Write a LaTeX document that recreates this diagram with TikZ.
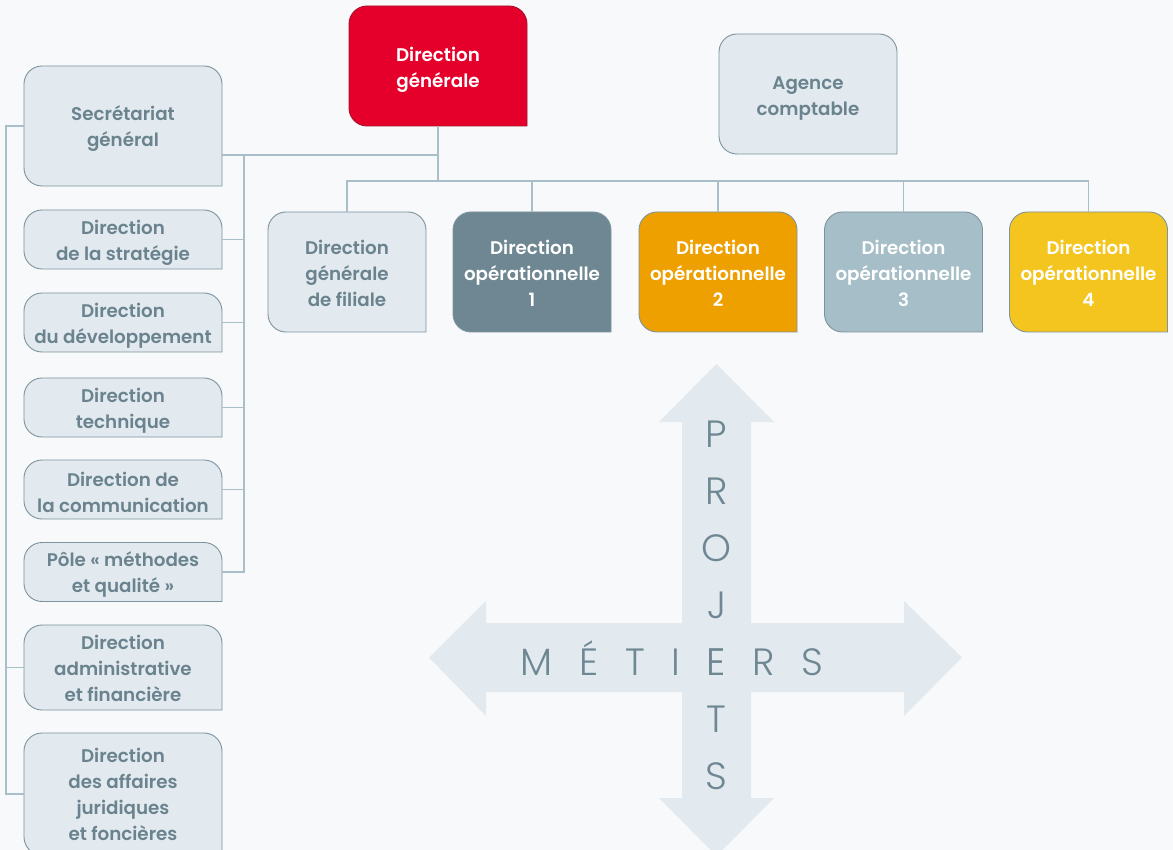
\documentclass[tikz,border=0pt]{standalone}
\usepackage{fontspec}
\usetikzlibrary{backgrounds}
\newfontfamily\boxfont{Poppins SemiBold}
\newfontfamily\thinfont{Poppins Light}[LetterSpace=70]
\newfontfamily\thinfontv{Poppins Light}
\definecolor{bg}{HTML}{F7F9FA}
\definecolor{boxfill}{HTML}{E2E9EF}
\definecolor{boxline}{HTML}{7D939D}
\definecolor{boxtext}{HTML}{6A838E}
\definecolor{conncol}{HTML}{A8BFC9}
\definecolor{dgred}{HTML}{E4002B}
\definecolor{dgline}{HTML}{A8102A}
\definecolor{opone}{HTML}{6E8792}
\definecolor{optwo}{HTML}{EDA000}
\definecolor{opthree}{HTML}{A6BEC8}
\definecolor{opfour}{HTML}{F5C51F}
\newlength\wAll \newlength\wTail \newlength\wEe
\newcommand\metfont{\thinfont\fontsize{38}{38}\selectfont}
\newcommand\up[1]{\rule{0pt}{#1pt}}
\newcommand\boxshape[3]{%
  \begin{pgfonlayer}{background}
  \draw[fill=#2, draw=#3, line width=0.9pt] (#1.south east)
    -- ([yshift=-18pt]#1.north east) arc[start angle=0, end angle=90, radius=18pt]
    -- ([xshift=18pt]#1.north west) arc[start angle=90, end angle=180, radius=18pt]
    -- ([yshift=18pt]#1.south west) arc[start angle=180, end angle=270, radius=18pt]
    -- cycle;
  \end{pgfonlayer}}
\begin{document}
\settowidth\wAll{\metfont MÉTIERS}
\settowidth\wTail{\metfont ERS}
\settowidth\wEe{\thinfontv\fontsize{38}{38}\selectfont E}
\begin{tikzpicture}[x=1pt,y=-1pt,
  every node/.style={font=\boxfont\fontsize{18.3}{26}\selectfont, align=center, inner sep=0pt, outer sep=0pt},
  lbox/.style={text=boxtext},
  cbox/.style={text=white, minimum width=158pt, minimum height=120pt},
  leftbox/.style={lbox, minimum width=198pt},
  conn/.style={draw=conncol, line width=1.3pt},
  arrowfill/.style={fill=boxfill},
  bigletters/.style={text=opone}
]
\useasboundingbox (0,0) rectangle (1173,850);
\begin{pgfonlayer}{background}
\fill[bg] (0,0) rectangle (1173,850);
\end{pgfonlayer}

% cross arrows
\fill[arrowfill] (682,422) -- (659,422) -- (716.5,364) -- (774,422) -- (751,422) -- (751,798) -- (774,798) -- (716.5,856) -- (659,798) -- (682,798) -- cycle;
\fill[arrowfill] (486,623) -- (486,601) -- (429,657.5) -- (486,716) -- (486,692) -- (904,692) -- (904,716) -- (962,657.5) -- (904,601) -- (904,623) -- cycle;

% top boxes
\node[text=white, minimum width=178pt, minimum height=120pt] (dg) at (438,66) {\up{21.5}Direction\\générale};
\node[lbox, minimum width=178pt, minimum height=120pt] (ac) at (808,94) {\up{22.5}Agence\\comptable};

% left column
\node[leftbox, minimum height=120pt] (sg) at (123,126) {\up{20}Secrétariat\\général};
\node[leftbox, minimum height=59pt] (strat) at (123,239.5) {\up{20}Direction\\de la stratégie};
\node[leftbox, minimum height=59pt] (dev) at (123,322.5) {\up{20}Direction\\du développement};
\node[leftbox, minimum height=59pt] (tech) at (123,407.5) {\up{20}Direction\\technique};
\node[leftbox, minimum height=59pt] (comm) at (123,489.5) {\up{20}Direction de\\la communication};
\node[leftbox, minimum height=59pt] (pole) at (123,572) {\up{20}Pôle « méthodes\\et qualité »};
\node[leftbox, minimum height=85pt] (adm) at (123,667.5) {\up{15.5}Direction\\administrative\\et financière};
\node[leftbox, minimum height=122pt] (jur) at (123,794) {Direction\\des affaires\\juridiques\\et foncières};

% row of directions
\node[lbox, minimum width=158pt, minimum height=120pt] (fil) at (347,272) {\up{17.5}Direction\\générale\\de filiale};
\node[cbox] (op1) at (532,272) {\up{17.5}Direction\\opérationnelle\\1};
\node[cbox] (op2) at (718,272) {\up{17.5}Direction\\opérationnelle\\2};
\node[cbox] (op3) at (903.5,272) {\up{17.5}Direction\\opérationnelle\\3};
\node[cbox] (op4) at (1088.5,272) {\up{17.5}Direction\\opérationnelle\\4};

% box shapes (rounded, square bottom-right corner)
\boxshape{dg}{dgred}{dgline}
\boxshape{ac}{boxfill}{boxline}
\foreach \n in {sg,strat,dev,tech,comm,pole,adm,jur,fil}{\boxshape{\n}{boxfill}{boxline}}
\boxshape{op1}{opone}{boxline}
\boxshape{op2}{optwo}{boxline}
\boxshape{op3}{opthree}{boxline}
\boxshape{op4}{opfour}{boxline}

% connectors
\coordinate (j0) at (438,181);
\coordinate (j1) at (438,155);
\coordinate (j2) at (244,155);
\draw[conn] (dg.south) -- (j0);
\draw[conn] (fil.north) |- (op4.north |- j0) -- (op4.north);
\foreach \n in {op1,op2,op3}{\draw[conn] (\n.north) -- (\n.north |- j0);}
\draw[conn] (j1) -- (sg.east |- j1);
\draw[conn] (j2) |- (pole.east);
\foreach \n in {strat,dev,tech,comm}{\draw[conn] (\n.east) -- (\n.east -| j2);}
\draw[conn] (sg.west) -- ++(-18,0) |- (jur.west);
\draw[conn] (adm.west) -- ++(-18,0);

% big words (the E is shared)
\node[bigletters, font=\metfont, anchor=west] (metiers) at ({716.5pt-\wAll+\wTail-0.5\wEe},{-658pt}) {MÉTIERS};
\node[bigletters, font=\thinfontv\fontsize{38}{57}\selectfont] (projets) at (716.5,605) {P\\R\\O\\J\\E\\T\\S};
\end{tikzpicture}
\end{document}
